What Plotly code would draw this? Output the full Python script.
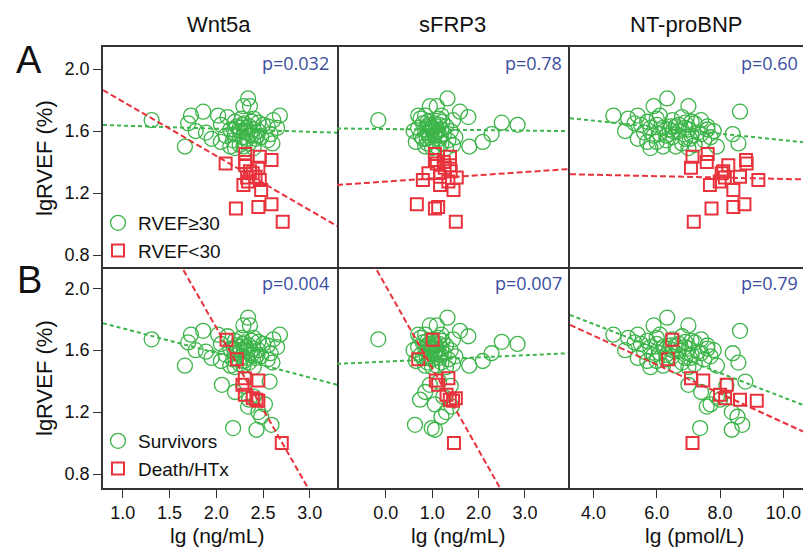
import plotly.graph_objects as go

W, H = 803, 550
GREEN = '#3db54a'
RED = '#e8323c'
BLUE = '#3a4ea1'
AXIS = '#333333'
FONT = 'Liberation Sans, Arial, sans-serif'

# ---------------- text / labels ----------------
columns = ['Wnt5a', 'sFRP3', 'NT-proBNP']
x_titles = ['lg (ng/mL)', 'lg (ng/mL)', 'lg (pmol/L)']
row_letters = ['A', 'B']
legend_names = [['RVEF≥30', 'RVEF<30'], ['Survivors', 'Death/HTx']]
p_values = [['p=0.032', 'p=0.78', 'p=0.60'], ['p=0.004', 'p=0.007', 'p=0.79']]
x_ticks = [[1.0, 1.5, 2.0, 2.5, 3.0], [0.0, 1.0, 2.0, 3.0], [4.0, 6.0, 8.0, 10.0]]
y_ticks = [0.8, 1.2, 1.6, 2.0]
x_ranges = [[0.79, 3.29], [-1.05, 3.97], [3.26, 10.62]]
y_ranges = [[0.723, 2.142], [0.71, 2.137]]

# ---------------- data: RVEF>=30 (top row, green) ----------------
green_y = [1.81, 1.76, 1.76, 1.725, 1.70, 1.70, 1.70, 1.69, 1.68, 1.67,
           1.67, 1.66, 1.654, 1.65, 1.65, 1.64, 1.64, 1.63, 1.63, 1.62,
           1.62, 1.61, 1.61, 1.60, 1.60, 1.60, 1.59, 1.59, 1.58, 1.58,
           1.57, 1.57, 1.56, 1.56, 1.55, 1.55, 1.54, 1.54, 1.53, 1.53,
           1.52, 1.52, 1.51, 1.50, 1.50, 1.50, 1.49, 1.49, 1.63, 1.66,
           1.62, 1.60, 1.58, 1.64, 1.57, 1.61, 1.68, 1.55]
green_wnt5a = [2.34, 2.36, 2.29, 1.86, 1.73, 2.02, 2.68, 2.12, 2.40, 1.31,
               2.61, 2.20, 2.45, 1.70, 2.30, 2.50, 2.05, 2.35, 2.55, 2.65,
               2.25, 2.40, 2.15, 2.30, 1.78, 2.45, 1.89, 2.33, 2.58, 2.20,
               2.38, 2.10, 2.48, 2.28, 1.95, 2.42, 2.18, 2.55, 2.30, 2.05,
               2.35, 2.60, 2.25, 1.665, 2.15, 2.29, 2.40, 2.20, 2.22, 2.38,
               2.32, 2.26, 2.36, 2.28, 2.44, 2.19, 2.27, 2.33]
green_sfrp3 = [1.33, 1.10, 0.95, 1.60, 0.70, 0.85, 1.20, 1.78, 0.75, -0.16,
               1.45, 0.90, 2.50, 1.05, 0.80, 2.84, 1.15, 0.95, 1.30, 1.00,
               0.70, 1.20, 0.85, 1.40, 1.00, 0.60, 1.10, 0.90, 2.28, 1.25,
               0.75, 1.05, 1.50, 0.95, 1.15, 0.80, 1.35, 1.00, 2.09, 0.65,
               1.20, 0.90, 1.45, 1.80, 1.10, 0.85, 1.30, 1.00, 1.08, 1.22,
               0.98, 1.12, 1.05, 0.92, 1.18, 1.02, 1.14, 0.88]
green_ntprobnp = [6.33, 5.90, 7.00, 8.63, 4.63, 5.40, 6.10, 6.80, 5.10, 7.40,
                  6.50, 5.70, 6.90, 5.30, 7.20, 6.00, 5.50, 6.60, 7.60, 6.20,
                  5.80, 7.00, 6.40, 5.00, 7.80, 6.70, 5.60, 7.30, 8.40, 6.10,
                  5.90, 7.10, 6.50, 7.70, 6.90, 5.40, 6.30, 7.50, 6.00, 5.70,
                  8.58, 6.80, 7.20, 6.60, 7.90, 6.20, 7.00, 5.80, 6.45, 7.10,
                  6.90, 6.50, 7.40, 6.70, 6.30, 7.60, 6.00, 7.05]

# ---------------- data: RVEF<30 (top row, red) ----------------
red_y = [1.452, 1.434, 1.413, 1.40, 1.39, 1.38, 1.363, 1.34, 1.327, 1.305,
         1.30, 1.284, 1.275, 1.252, 1.22, 1.128, 1.11, 1.10, 1.015]
red_wnt5a = [2.31, 2.465, 2.59, 2.31, 2.10, 2.31, 2.45, 2.36, 2.39, 2.42,
             2.33, 2.465, 2.34, 2.29, 2.48, 2.59, 2.45, 2.21, 2.71]
red_sfrp3 = [1.06, 1.385, 1.06, 1.25, 1.10, 1.385, 1.27, 1.40, 0.92, 1.17,
             1.53, 0.80, 1.35, 1.17, 1.46, 0.67, 1.13, 1.06, 1.51]
red_ntprobnp = [7.61, 7.13, 8.82, 7.58, 8.84, 8.26, 7.08, 8.10, 8.05, 8.63,
                8.15, 9.21, 7.99, 7.68, 8.42, 8.77, 8.42, 7.73, 7.17]

# ---------------- data: survivors with low RVEF (bottom row, green extra) ----------------
low_surv_y = [1.397, 1.376, 1.37, 1.33, 1.30, 1.28, 1.25, 1.236, 1.20, 1.17,
              1.118, 1.097, 1.086]
low_surv_wnt5a = [2.57, 2.06, 2.29, 2.20, 2.40, 2.35, 2.52, 2.34, 2.45, 2.48,
                  2.59, 2.18, 2.43]
low_surv_sfrp3 = [1.15, 0.95, 1.40, 0.85, 1.24, 0.74, 1.06, 1.42, 1.30, 1.20,
                  0.63, 0.99, 1.06]
low_surv_ntprobnp = [8.80, 7.00, 8.20, 7.40, 7.90, 8.00, 7.70, 7.58, 8.37, 8.55,
                     8.70, 7.37, 8.37]

# ---------------- data: Death/HTx (bottom row, red) ----------------
death_y = [1.667, 1.542, 1.419, 1.404, 1.376, 1.312, 1.29, 1.28, 1.273, 1.0]
death_wnt5a = [2.11, 2.22, 2.305, 2.45, 2.28, 2.305, 2.39, 2.43, 2.45, 2.70]
death_sfrp3 = [1.01, 0.70, 1.35, 1.08, 1.13, 1.31, 1.51, 1.38, 1.45, 1.47]
death_ntprobnp = [6.49, 6.36, 7.08, 7.47, 8.21, 8.00, 8.16, 8.63, 9.16, 7.13]

# ---------------- regression fits (slope, intercept) ----------------
fit_green = [[(-0.020, 1.655), (-0.0034, 1.613), (-0.021, 1.751)],
             [(-0.159, 1.900), (0.0137, 1.526), (-0.079, 2.085)]]
fit_red = [[(-0.351, 2.142), (0.0205, 1.274), (-0.0045, 1.336)],
           [(-1.057, 3.860), (-0.530, 2.015), (-0.0935, 2.068)]]

surv_y = green_y + low_surv_y
green_sets = [
    [(green_wnt5a, green_y), (green_sfrp3, green_y), (green_ntprobnp, green_y)],
    [(green_wnt5a + low_surv_wnt5a, surv_y), (green_sfrp3 + low_surv_sfrp3, surv_y),
     (green_ntprobnp + low_surv_ntprobnp, surv_y)],
]
red_sets = [
    [(red_wnt5a, red_y), (red_sfrp3, red_y), (red_ntprobnp, red_y)],
    [(death_wnt5a, death_y), (death_sfrp3, death_y), (death_ntprobnp, death_y)],
]

# ---------------- layout geometry (pixels) ----------------
col_px = [(103, 337), (337, 570), (570, 803)]
row_px = [(47, 267), (267, 488)]


def px(x):
    return x / W


def py(y):
    return 1 - y / H


fig = go.Figure()
layout = dict(
    width=W, height=H, margin=dict(l=0, r=0, t=0, b=0),
    paper_bgcolor='white', plot_bgcolor='white',
    font=dict(family=FONT, color='#111', size=18),
    annotations=[],
)

for r in range(2):
    for c in range(3):
        k = r * 3 + c
        xa = 'x' if k == 0 else f'x{k + 1}'
        ya = 'y' if k == 0 else f'y{k + 1}'
        leg = 'legend' if r == 0 else 'legend2'
        gx, gy = green_sets[r][c]
        rx, ry = red_sets[r][c]
        fig.add_trace(go.Scatter(
            x=gx, y=gy, mode='markers', xaxis=xa, yaxis=ya,
            name=legend_names[r][0], legend=leg, showlegend=(c == 0),
            marker=dict(symbol='circle-open', size=15, color=GREEN,
                        line=dict(width=1.3, color=GREEN))))
        fig.add_trace(go.Scatter(
            x=rx, y=ry, mode='markers', xaxis=xa, yaxis=ya,
            name=legend_names[r][1], legend=leg, showlegend=(c == 0),
            marker=dict(symbol='square-open', size=12, color=RED,
                        line=dict(width=2, color=RED))))
        xr = x_ranges[c]
        for (slope, icpt), col, dash in ((fit_green[r][c], GREEN, '4px,3px'),
                                         (fit_red[r][c], RED, '6px,3px')):
            fig.add_trace(go.Scatter(
                x=xr, y=[icpt + slope * xr[0], icpt + slope * xr[1]],
                mode='lines', xaxis=xa, yaxis=ya, showlegend=False,
                hoverinfo='skip', line=dict(color=col, width=2, dash=dash)))

        x0, x1 = col_px[c]
        y0, y1 = row_px[r]
        xkey = 'xaxis' if k == 0 else f'xaxis{k + 1}'
        ykey = 'yaxis' if k == 0 else f'yaxis{k + 1}'
        # single-width frame lines: shared edges drawn only once
        layout[xkey] = dict(
            domain=[px(x0), px(x1)], anchor=ya, range=xr,
            showgrid=False, zeroline=False, showline=True, mirror=(r == 0),
            linecolor=AXIS, linewidth=1.5,
            tickvals=x_ticks[c], tickformat='.1f',
            ticks='outside' if r == 1 else '', ticklen=8, tickwidth=1.3,
            tickcolor=AXIS, showticklabels=(r == 1),
            tickfont=dict(size=18, family=FONT, color='#111'),
        )
        layout[ykey] = dict(
            domain=[py(y1), py(y0)], anchor=xa, range=y_ranges[r],
            showgrid=False, zeroline=False, showline=(c != 1), mirror=(c == 0),
            linecolor=AXIS, linewidth=1.5,
            tickvals=y_ticks, tickformat='.1f',
            ticks='outside' if c == 0 else '', ticklen=8, tickwidth=1.3,
            tickcolor=AXIS, showticklabels=(c == 0),
            tickfont=dict(size=18, family=FONT, color='#111'),
        )
        # p-value
        layout['annotations'].append(dict(
            text=p_values[r][c], xref='paper', yref='paper',
            x=px(x1 - 6 if c < 2 else 800), y=py(y0 + 16),
            xanchor='right', yanchor='middle', showarrow=False,
            font=dict(size=18, family='Open Sans, sans-serif', color=BLUE)))

# column titles and x-axis titles
x_title_px = [217, 459, 694]
for c in range(3):
    x0, x1 = col_px[c]
    layout['annotations'].append(dict(
        text=columns[c], xref='paper', yref='paper', x=px((x0 + x1) / 2 - 1),
        y=py(25), xanchor='center', yanchor='middle', showarrow=False,
        font=dict(size=22, family=FONT, color='#111')))
    layout['annotations'].append(dict(
        text=x_titles[c], xref='paper', yref='paper', x=px(x_title_px[c]),
        y=py(535), xanchor='center', yanchor='middle', showarrow=False,
        font=dict(size=21, family=FONT, color='#111')))

# row letters and y-axis titles
for r in range(2):
    y0, y1 = row_px[r]
    layout['annotations'].append(dict(
        text=row_letters[r], xref='paper', yref='paper', x=px(29),
        y=py(y0 + 13), xanchor='center', yanchor='middle', showarrow=False,
        font=dict(size=38, family=FONT, color='#111')))
    layout['annotations'].append(dict(
        text='lgRVEF (%)', xref='paper', yref='paper', x=px(44),
        y=py(y0 + 111), xanchor='center', yanchor='middle', showarrow=False,
        textangle=-90, font=dict(size=22, family=FONT, color='#111')))

legend_common = dict(
    xanchor='left', yanchor='top', bgcolor='rgba(0,0,0,0)', borderwidth=0,
    font=dict(size=19, family=FONT, color='#111'), itemsizing='trace',
    tracegroupgap=0, itemclick=False, itemdoubleclick=False)
layout['legend'] = dict(x=px(98), y=py(204), **legend_common)
layout['legend2'] = dict(x=px(98), y=py(422), **legend_common)

fig.update_layout(**layout)
fig.write_html(
    'out.html',
    config={'displayModeBar': False},
    post_script="document.body.style.margin='0';document.body.style.overflow='hidden';",
)
